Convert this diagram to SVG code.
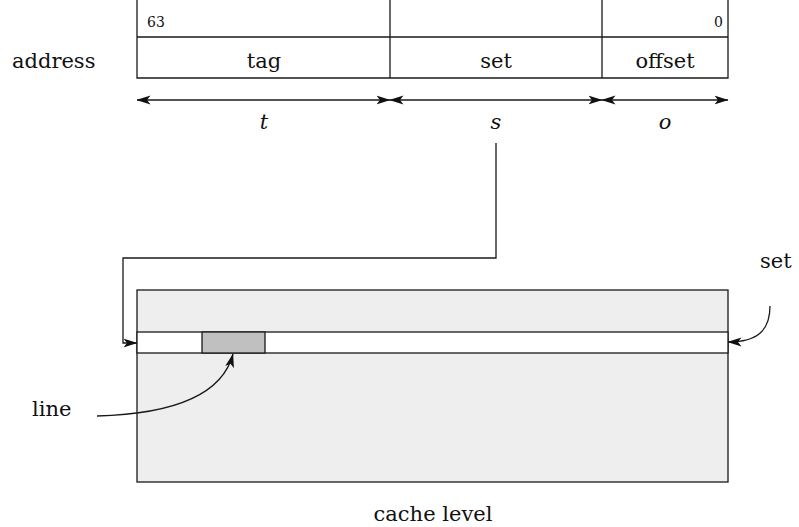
<svg xmlns="http://www.w3.org/2000/svg" width="799" height="527" viewBox="0 0 799 527">
  <style>
    .ln { stroke: #1a1a1a; stroke-width: 1.3; fill: none; }
    .txt { font-family: "DejaVu Serif", "Liberation Serif", serif; font-size: 21px; fill: #111; }
    .sm { font-family: "DejaVu Serif", "Liberation Serif", serif; font-size: 14px; fill: #111; }
    .it { font-style: italic; text-anchor: middle; }
    .mid { text-anchor: middle; }
  </style>
  <defs>
    <marker id="arr" viewBox="0 0 14 10" refX="13.5" refY="5" markerWidth="14" markerHeight="10" markerUnits="userSpaceOnUse" orient="auto-start-reverse">
      <path d="M0,0.5 L14,5 L0,9.5 L3.5,5 Z" fill="#111"/>
    </marker>
  </defs>

  <!-- address layout -->
  <g id="address">
    <text class="txt" x="12" y="68">address</text>
    <path class="ln" d="M137,0 V78 H728 V0 M137,37 H728 M390,0 V78 M602,0 V78"/>
    <text class="sm" x="147" y="27">63</text>
    <text class="sm" x="723" y="27" text-anchor="end">0</text>
    <text class="txt mid" x="264" y="68">tag</text>
    <text class="txt mid" x="496" y="68">set</text>
    <text class="txt mid" x="665" y="68">offset</text>
  </g>

  <!-- field widths -->
  <g id="widths">
    <line class="ln" x1="137" y1="100" x2="390" y2="100" marker-start="url(#arr)" marker-end="url(#arr)"/>
    <line class="ln" x1="390" y1="100" x2="602" y2="100" marker-start="url(#arr)" marker-end="url(#arr)"/>
    <line class="ln" x1="602" y1="100" x2="728" y2="100" marker-start="url(#arr)" marker-end="url(#arr)"/>
    <text class="txt it" x="264" y="129">t</text>
    <text class="txt it" x="496" y="129">s</text>
    <text class="txt it" x="665" y="129">o</text>
  </g>

  <!-- cache level -->
  <g id="cache">
    <rect x="137" y="290" width="591" height="192" fill="#eeeeee" stroke="#1a1a1a" stroke-width="1.3"/>
    <rect x="137" y="332" width="591" height="21" fill="#ffffff" stroke="#1a1a1a" stroke-width="1.3"/>
    <rect x="202" y="332" width="63" height="21" fill="#c0c0c0" stroke="#1a1a1a" stroke-width="1.3"/>
    <text class="txt mid" x="433" y="521">cache level</text>
  </g>

  <g id="labels">
    <text class="txt" x="760" y="268">set</text>
    <text class="txt" x="32" y="416">line</text>
  </g>

  <!-- connectors -->
  <g id="connectors">
    <path class="ln" d="M496,143 V258 H123 V343 H137" marker-end="url(#arr)"/>
    <path class="ln" d="M770,306 C770,330 758,342 728,342" marker-end="url(#arr)"/>
    <path class="ln" d="M97,416 C170,414 222,396 233,354" marker-end="url(#arr)"/>
  </g>
</svg>
